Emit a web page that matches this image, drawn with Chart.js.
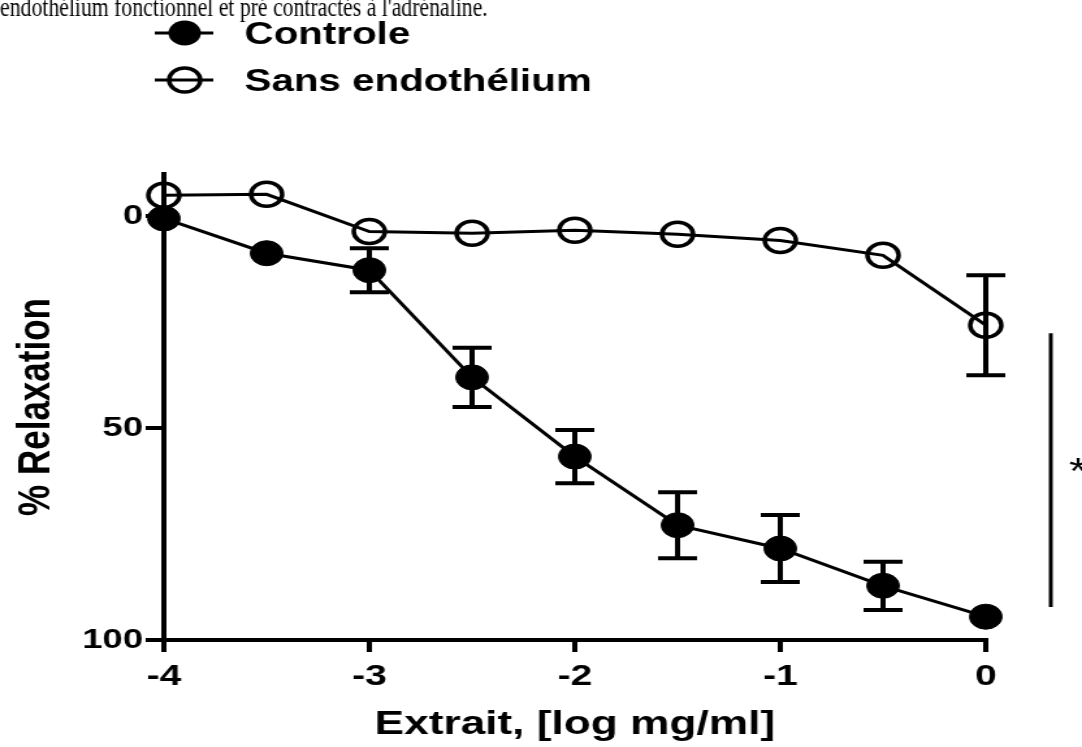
<!DOCTYPE html>
<html>
<head>
<meta charset="utf-8">
<script src="https://cdn.jsdelivr.net/npm/chart.js@4"></script>
<style>
  body { margin: 0; background: #fff; overflow: hidden; }
</style>
</head>
<body>
<!-- la figure d'origine est etiree en largeur : on dessine etroit et on elargit en css -->
<canvas id="chart" width="832" height="747" style="width:1082px;height:747px"></canvas>
<script>
const doses = [-4, -3.5, -3, -2.5, -2, -1.5, -1, -0.5, 0];
const controle = [0.5, 8.7, 12.7, 38, 56.7, 72.9, 78.4, 87.2, 94.5];
const controleErr = [0, 0, 5.2, 7, 6.3, 7.8, 7.9, 5.7, 0];
const sansEndo = [-5, -5.2, 3.6, 4, 3.3, 4.2, 5.7, 9.2, 25.7];
const sansEndoErr = [0, 0, 0, 0, 0, 0, 0, 0, 11.8];
const xTicks = [-4, -3, -2, -1, 0];
const yTicks = [0, 50, 100];
const seriesNames = ['Controle', 'Sans endothélium'];
const sigSpan = [27.6, 92.2]; // barre verticale du test (en % relaxation)
const topText = "endothélium fonctionnel et pré contractés à l'adrénaline.";

const family = "'Liberation Sans', Arial, sans-serif";

const extras = {
  id: 'extras',
  afterDatasetsDraw(chart) {
    const ctx = chart.ctx;
    const x = chart.scales.x;
    const y = chart.scales.y;
    ctx.save();
    ctx.strokeStyle = '#000';
    ctx.fillStyle = '#000';

    // barres d'erreur
    ctx.lineWidth = 4;
    [[controle, controleErr], [sansEndo, sansEndoErr]].forEach(([vals, errs]) => {
      vals.forEach((v, i) => {
        if (!errs[i]) return;
        const px = x.getPixelForValue(doses[i]);
        const top = y.getPixelForValue(v - errs[i]);
        const bot = y.getPixelForValue(v + errs[i]);
        ctx.beginPath();
        ctx.moveTo(px, top); ctx.lineTo(px, bot);
        ctx.moveTo(px - 15, top); ctx.lineTo(px + 15, top);
        ctx.moveTo(px - 15, bot); ctx.lineTo(px + 15, bot);
        ctx.stroke();
      });
    });

    // significativite a droite
    const sx = chart.chartArea.right + 50;
    ctx.lineWidth = 3;
    ctx.beginPath();
    ctx.moveTo(sx, y.getPixelForValue(sigSpan[0]));
    ctx.lineTo(sx, y.getPixelForValue(sigSpan[1]));
    ctx.stroke();
    ctx.font = '36px ' + family;
    ctx.textBaseline = 'alphabetic';
    ctx.fillText('*', sx + 14, (y.getPixelForValue(sigSpan[0]) + y.getPixelForValue(sigSpan[1])) / 2 + 14);

    // legende
    const rows = [33, 80];
    chart.data.datasets.forEach((ds, i) => {
      const ry = rows[i];
      ctx.lineWidth = 3;
      ctx.beginPath();
      ctx.moveTo(119, ry); ctx.lineTo(164, ry);
      ctx.stroke();
      ctx.beginPath();
      ctx.arc(142, ry, ds.pointRadius, 0, Math.PI * 2);
      if (i === 0) {
        ctx.fill();
      } else {
        ctx.lineWidth = ds.pointBorderWidth;
        ctx.stroke();
      }
      ctx.font = 'bold 31px ' + family;
      ctx.textAlign = 'left';
      ctx.fillText(ds.label, 188, ry + 11);
    });

    // bout de texte du document, coupe en haut
    ctx.font = "28px 'Liberation Serif', 'Times New Roman', serif";
    const w = ctx.measureText(topText).width;
    ctx.translate(0, 16);
    ctx.scale(375 / w, 1);
    ctx.fillText(topText, 0, 0);
    ctx.restore();
  }
};

const points = (vals) => doses.map((d, i) => ({ x: d, y: vals[i] }));

new Chart(document.getElementById('chart'), {
  type: 'line',
  data: {
    datasets: [
      {
        label: seriesNames[0],
        data: points(controle),
        borderColor: '#000',
        borderWidth: 3,
        pointRadius: 12.5,
        pointBackgroundColor: '#000',
        pointBorderColor: '#000',
        pointBorderWidth: 1,
        clip: false
      },
      {
        label: seriesNames[1],
        data: points(sansEndo),
        borderColor: '#000',
        borderWidth: 3,
        pointRadius: 12,
        pointBackgroundColor: 'rgba(0,0,0,0)',
        pointBorderColor: '#000',
        pointBorderWidth: 3.5,
        clip: false
      }
    ]
  },
  options: {
    responsive: false,
    devicePixelRatio: 1,
    animation: false,
    layout: { padding: { top: 174, right: 74, left: 0, bottom: 0 } },
    plugins: { legend: { display: false }, tooltip: { enabled: false } },
    scales: {
      x: {
        type: 'linear',
        min: -4,
        max: 0,
        afterBuildTicks: (axis) => { axis.ticks = xTicks.map(v => ({ value: v })); },
        afterFit: (axis) => { axis.height = 107; },
        grid: { drawOnChartArea: false, color: '#000', lineWidth: 4, tickLength: 12 },
        border: { color: '#000', width: 4 },
        ticks: { color: '#000', font: { family: family, size: 30, weight: 'bold' }, padding: 7, maxRotation: 0, autoSkip: false },
        title: { display: true, text: 'Extrait, [log mg/ml]', color: '#000', font: { family: family, size: 34, weight: 'bold' }, padding: { top: 0, bottom: 2 } }
      },
      y: {
        reverse: true,
        min: -10,
        max: 100,
        afterBuildTicks: (axis) => { axis.ticks = yTicks.map(v => ({ value: v })); },
        afterFit: (axis) => { axis.width = 126; },
        grid: { drawOnChartArea: false, color: '#000', lineWidth: 4, tickLength: 14 },
        border: { color: '#000', width: 4 },
        ticks: { color: '#000', font: { family: family, size: 28, weight: 'bold' }, padding: 2 },
        title: { display: true, text: '% Relaxation', color: '#000', font: { family: family, size: 35, weight: 'bold' }, padding: { top: 7, bottom: 0 } }
      }
    }
  },
  plugins: [extras]
});
</script>
</body>
</html>
